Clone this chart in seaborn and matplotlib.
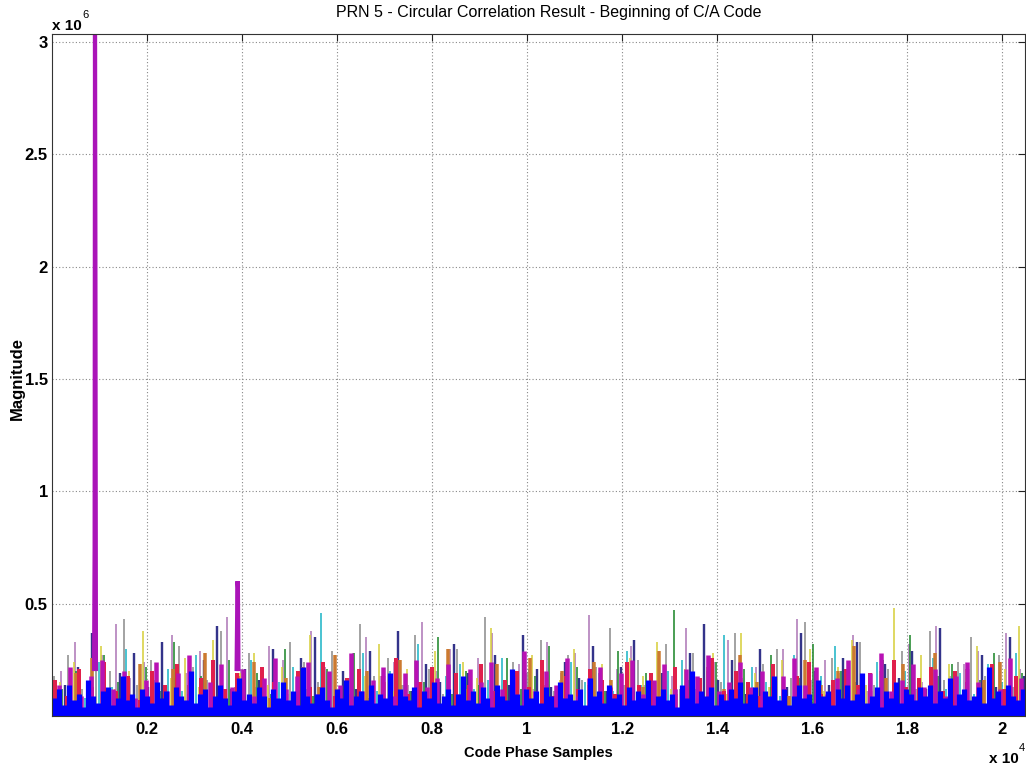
import numpy as np
import pandas as pd
import matplotlib
matplotlib.use("Agg")
import matplotlib.pyplot as plt
import seaborn as sns

# ---------------- text ----------------
title = "PRN 5 - Circular Correlation Result - Beginning of C/A Code"
x_label = "Code Phase Samples"
y_label = "Magnitude"
x_ticks = [2000, 4000, 6000, 8000, 10000, 12000, 14000, 16000, 18000, 20000]
x_tick_labels = ["0.2", "0.4", "0.6", "0.8", "1", "1.2", "1.4", "1.6", "1.8", "2"]
y_ticks = [0.5e6, 1.0e6, 1.5e6, 2.0e6, 2.5e6, 3.0e6]
y_tick_labels = ["0.5", "1", "1.5", "2", "2.5", "3"]
n_samples = 20480

# ---------------- data (magnitudes in units of 1e4) ----------------
blue_mag = [
    8, 12, 5, 14, 7, 10, 4, 16, 9, 6, 11, 13, 5, 8, 18, 7, 10, 4, 12, 9,
    6, 15, 8, 11, 5, 13, 9, 7, 20, 6, 10, 12, 4, 9, 14, 8, 5, 11, 17, 7,
    10, 6, 13, 9, 4, 12, 8, 15, 7, 11, 5, 22, 9, 6, 10, 13, 7, 4, 12, 8,
    16, 5, 9, 11, 7, 14, 6, 10, 8, 19, 5, 12, 9, 7, 13, 4, 11, 8, 15, 6,
    9, 12, 5, 10, 18, 7, 11, 6, 13, 8, 4, 14, 9, 7, 21, 10, 5, 12, 8, 11,
    6, 13, 9, 4, 15, 8, 10, 7, 12, 5, 17, 9, 11, 6, 14, 8, 10, 5, 13, 7,
    11, 8, 16, 5, 9, 12, 7, 10, 4, 14, 8, 20, 6, 11, 9, 13, 5, 10, 7, 12,
    8, 15, 6, 10, 13, 4, 11, 9, 18, 7, 12, 5, 9, 14, 8, 10, 6, 16, 9, 11,
    5, 12, 8, 14, 7, 10, 19, 6, 9, 13, 4, 11, 8, 15, 6, 12, 10, 7, 13, 9,
    14, 6, 11, 8, 17, 5, 10, 12, 7, 9, 13, 6, 22, 8, 11, 5, 14, 9, 7, 12,
]
magenta_mag = [
    14, 22, 9, 18, 25, 12, 20, 8, 16, 24, 11, 19, 27, 10, 15, 23, 13, 21, 9, 17,
    26, 12, 18, 24, 10, 20, 14, 28, 11, 16, 22, 9, 19, 25, 13, 17, 23, 10, 21, 15,
    24, 12, 18, 29, 11, 20, 14, 26, 9, 17, 22, 13, 19, 25, 10, 16, 23, 12, 21, 18,
    27, 11, 15, 24, 13, 20, 9, 18, 26, 14, 22, 10, 17, 25, 12, 19, 28, 11, 16, 23,
    13, 21, 9, 18, 24, 15, 20, 12, 26, 17,
]
red_mag = [
    16, 9, 21, 13, 24, 11, 18, 7, 20, 14, 23, 10, 17, 25, 12, 19, 8, 22, 15, 11,
    20, 13, 24, 9, 17, 21, 12, 18, 26, 10, 15, 22, 8, 19, 14, 23, 11, 16, 20, 13,
    25, 9, 18, 12, 21, 16, 10, 24, 14, 19, 7, 22, 13, 17, 26, 11, 20, 15, 9, 23,
    12, 18, 24, 10, 16, 21, 14, 19, 8, 25, 13, 17, 22, 11, 20, 15, 9, 23, 12, 18,
]
green_mag = [
    12, 20, 9, 27, 15, 8, 22, 11, 33, 14, 18, 7, 25, 12, 19, 10, 30, 16, 9, 21,
    13, 28, 8, 17, 24, 11, 15, 35, 10, 20, 14, 9, 26, 12, 18, 31, 8, 22, 15, 11,
    29, 13, 19, 9, 47, 16, 10, 24, 14, 21, 8, 27, 12, 17, 32, 10, 20, 15, 9, 25,
    13, 36, 11, 18, 23, 9, 16, 28, 12, 19,
]
cyan_mag = [
    10, 18, 8, 24, 13, 30, 9, 16, 21, 11, 27, 14, 8, 19, 25, 10, 15, 22, 12, 46,
    9, 17, 28, 11, 20, 14, 32, 8, 18, 23, 12, 16, 26, 10, 21, 13, 9, 24, 15, 19,
    11, 29, 14, 8, 20, 25, 12, 17, 36, 10, 22, 15, 9, 27, 13, 18, 31, 11, 16, 24,
    8, 20, 14, 26, 12, 19, 10, 23, 15, 28,
]
yellow_mag = [
    15, 24, 9, 31, 12, 20, 38, 11, 17, 26, 13, 34, 10, 19, 28, 14, 22, 9, 36, 16,
    12, 25, 18, 32, 11, 21, 15, 29, 10, 24, 17, 39, 13, 20, 27, 11, 16, 30, 14, 23,
    9, 26, 18, 33, 12, 21, 15, 28, 10, 37, 19, 13, 25, 16, 30, 11, 22, 34, 14, 20,
    48, 12, 27, 17, 23, 10, 31, 15, 21, 40,
]
gray_mag = [
    18, 27, 12, 35, 20, 43, 14, 25, 10, 31, 22, 16, 38, 13, 28, 19, 11, 33, 24, 15,
    29, 12, 41, 18, 26, 14, 36, 21, 10, 30, 17, 44, 13, 24, 19, 34, 11, 27, 16, 22,
    39, 14, 25, 18, 32, 12, 28, 20, 15, 37, 11, 23, 30, 17, 42, 13, 26, 19, 33, 14,
    21, 29, 12, 38, 16, 24, 35, 18, 27, 13,
]
lilac_mag = [
    20, 33, 14, 27, 41, 17, 24, 12, 36, 19, 29, 15, 44, 21, 13, 31, 25, 16, 38, 22,
    11, 28, 35, 18, 24, 14, 42, 20, 30, 13, 26, 37, 16, 23, 12, 33, 19, 28, 45, 15,
    21, 31, 14, 26, 18, 39, 12, 24, 34, 17, 22, 13, 30, 43, 16, 25, 19, 36, 11, 27,
    20, 32, 15, 40, 18, 23, 29, 14, 37, 21,
]
navy_mag = [
    14, 22, 37, 11, 19, 28, 13, 33, 17, 9, 25, 40, 12, 21, 16, 30, 10, 26, 35, 15,
    20, 12, 29, 18, 38, 11, 23, 15, 32, 19, 10, 27, 14, 36, 21, 13, 24, 17, 31, 11,
    22, 34, 15, 19, 12, 28, 41, 16, 25, 10, 30, 18, 13, 37, 20, 14, 26, 33, 11, 23,
    17, 29, 12, 39, 15, 21, 27, 13, 35, 18,
]
orange_mag = [
    12, 19, 26, 10, 16, 23, 9, 21, 14, 28, 11, 18, 24, 8, 17, 22, 13, 27, 10, 20,
    15, 25, 9, 19, 30, 12, 17, 23, 11, 26, 14, 20, 8, 24, 16, 21, 13, 29, 10, 18,
    22, 12, 27, 15, 19, 9, 25, 14, 20, 31, 11, 17, 23, 13, 28, 10, 21, 16, 24, 12,
]
# correlation peaks (code phase, magnitude in 1e4, burst id)
peak_code_phase = [885, 897, 905, 913, 925, 3885, 3897, 3905, 3913, 3925]
peak_mag = [20, 75, 303.5, 215, 20, 20, 45, 60, 57, 20]
peak_burst = [1, 1, 1, 1, 1, 2, 2, 2, 2, 2]

# name, values, colour, stroke width (px), offset fraction of spacing
noise_series = [
    ("gray", gray_mag, "#8e8e8e", 1.6, 0.15),
    ("lilac", lilac_mag, "#b07ab8", 1.6, 0.62),
    ("yellow", yellow_mag, "#d8d040", 1.6, 0.55),
    ("cyan", cyan_mag, "#22b6c8", 1.6, 0.35),
    ("green", green_mag, "#22892e", 1.6, 0.75),
    ("navy", navy_mag, "#33338a", 2.4, 0.9),
    ("orange", orange_mag, "#cc7a30", 3.5, 0.45),
    ("red", red_mag, "#e0204c", 4.0, 0.25),
    ("magenta", magenta_mag, "#b812b4", 4.5, 0.65),
    ("blue", blue_mag, "#0000ff", 5.2, 0.5),
]

# ---------------- style ----------------
sns.set_theme(style="white")
plt.rcParams["font.family"] = ["Liberation Sans", "DejaVu Sans"]

W, H = 1026, 767
fig = plt.figure(figsize=(W / 100, H / 100), dpi=100)
ax = fig.add_axes([52 / W, 1 - 716 / H, (1025 - 52) / W, (716 - 34) / H])

for name, vals, col, width_px, off in noise_series:
    v = np.asarray(vals, dtype=float) * 1e4
    spacing = n_samples / len(v)
    xs = (np.arange(len(v)) + off) * spacing
    df = pd.DataFrame({"code_phase": xs, "magnitude": v})
    ax.vlines(df["code_phase"], 0, df["magnitude"], colors=col,
              lw=width_px * 0.72, capstyle="butt")

peak_df = pd.DataFrame({
    "code_phase": peak_code_phase,
    "magnitude": np.asarray(peak_mag) * 1e4,
    "burst": peak_burst,
})
sns.lineplot(data=peak_df, x="code_phase", y="magnitude", units="burst",
             estimator=None, sort=False, color="#aa14b8", lw=3.0, ax=ax,
             solid_capstyle="butt", solid_joinstyle="miter")

ax.set_xlim(0, n_samples)
ax.set_ylim(0, max(peak_mag) * 1e4)
ax.set_xticks(x_ticks)
ax.set_xticklabels(x_tick_labels)
ax.set_yticks(y_ticks)
ax.set_yticklabels(y_tick_labels)
ax.tick_params(axis="both", direction="in", length=5, width=0.8, colors="#222222",
               labelsize=12, top=True, right=True, labelcolor="black")
for lab in ax.get_xticklabels() + ax.get_yticklabels():
    lab.set_fontweight("bold")
ax.tick_params(axis="x", pad=4)
ax.tick_params(axis="y", pad=3)
ax.grid(True, linestyle=(0, (1, 2)), color="#888888", lw=0.8)
for s in ax.spines.values():
    s.set_color("#333333")
    s.set_linewidth(0.8)
ax.set_xlabel("")
ax.set_ylabel("")

fig.text(549 / W, 1 - 13 / H, title, ha="center", va="center", fontsize=11.5,
         color="black")
fig.text(538 / W, 1 - 757 / H, x_label, ha="center", va="baseline", fontsize=10.5,
         fontweight="bold", color="black")
fig.text(17 / W, 1 - 378 / H, y_label, ha="center", va="center", rotation=90,
         fontsize=12, fontweight="bold", color="black")
fig.text(52 / W, 1 - 30 / H, "x 10", ha="left", va="baseline", fontsize=11,
         fontweight="bold", color="black")
fig.text(82 / W, 1 - 18 / H, "6", ha="left", va="baseline", fontsize=8, color="black")
fig.text(989 / W, 1 - 763 / H, "x 10", ha="left", va="baseline", fontsize=11,
         fontweight="bold", color="black")
fig.text(1019 / W, 1 - 751 / H, "4", ha="left", va="baseline", fontsize=8, color="black")

fig.savefig("out.png", dpi=100)
